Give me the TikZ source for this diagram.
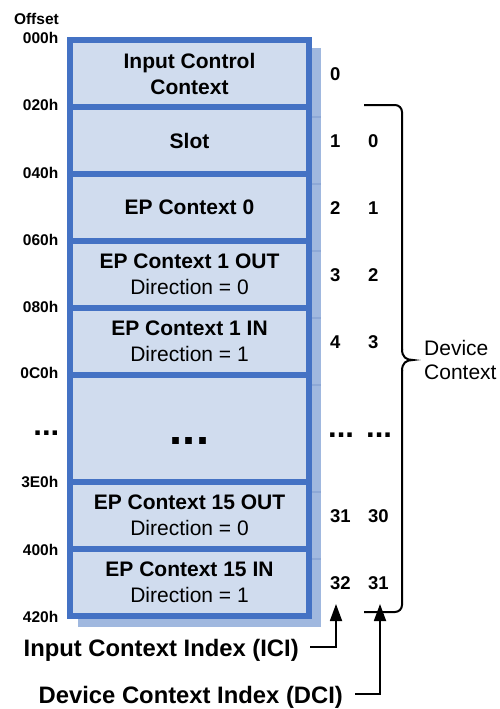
\documentclass[tikz,border=0pt]{standalone}
\usepackage{fontspec}
\setmainfont{Liberation Sans}
\usetikzlibrary{arrows.meta}
\definecolor{boxblue}{HTML}{4472C4}
\definecolor{boxfill}{HTML}{D0DCEE}
\definecolor{shadowblue}{HTML}{A0B8DF}
\definecolor{shadowline}{HTML}{8DA8D6}
\begin{document}
\begin{tikzpicture}[x=1pt,y=-1pt,
  rowbox/.style={draw=boxblue, line width=5.5pt, fill=boxfill, minimum width=239pt,
    minimum height=67pt, inner sep=0pt, align=center, font=\fontsize{21}{26}\selectfont},
  offlabel/.style={anchor=east, inner sep=0pt, font=\bfseries\fontsize{15.5}{18}\selectfont},
  idx/.style={anchor=west, inner sep=0pt, font=\bfseries\fontsize{18.5}{22}\selectfont},
  dotsmall/.style={inner sep=0pt, font=\bfseries\fontsize{31}{36}\selectfont},
  bottomlabel/.style={anchor=base west, inner sep=0pt, font=\bfseries\fontsize{23.8}{28}\selectfont},
  pointer/.style={line width=1.8pt, -{Triangle[length=17pt,width=12pt]}},
  bracestroke/.style={line width=2pt},
]
\useasboundingbox (0,0) rectangle (500,709);
% shadow
\fill[shadowblue] (78,48) rectangle (321,627);
\foreach \yy in {117,184,251,318,385,492,559}
  \draw[shadowline, line width=2pt] (78,\yy) -- (321,\yy);
% rows
\node[rowbox] (r0) at (189.5,73.5) {\textbf{Input Control}\\\textbf{Context}};
\node[rowbox] (r1) at (189.5,140.5) {\textbf{Slot}};
\node[rowbox] (r2) at (189.5,207.5) {\textbf{EP Context 0}};
\node[rowbox] (r3) at (189.5,274.5) {\textbf{EP Context 1 OUT}\\Direction = 0};
\node[rowbox] (r4) at (189.5,341.5) {\textbf{EP Context 1 IN}\\Direction = 1};
\node[rowbox, minimum height=107pt] (r5) at (189.5,428.5) {};
\node[rowbox] (r6) at (189.5,515.5) {\textbf{EP Context 15 OUT}\\Direction = 0};
\node[rowbox] (r7) at (189.5,582.5) {\textbf{EP Context 15 IN}\\Direction = 1};
\node[anchor=base, inner sep=0pt, font=\bfseries\fontsize{47}{50}\selectfont] (bigdots) at (189.5,444) {...};
% offsets
\node[offlabel] (offset) at (59,19) {Offset};
\node[offlabel] (o000) at (58.5,38) {000h};
\node[offlabel] (o020) at (58.5,105) {020h};
\node[offlabel] (o040) at (58.5,173) {040h};
\node[offlabel] (o060) at (58.5,240) {060h};
\node[offlabel] (o080) at (58.5,307) {080h};
\node[offlabel] (o0C0) at (58.5,373) {0C0h};
\node[dotsmall, anchor=base east] (odots) at (59.5,435) {...};
\node[offlabel] (o3E0) at (58.5,482) {3E0h};
\node[offlabel] (o400) at (58.5,550) {400h};
\node[offlabel] (o420) at (58.5,617) {420h};
% indices
\node[idx] (i0) at (330,74) {0};
\node[idx] (i1) at (330,141.5) {1};
\node[idx] (d0) at (368,141.5) {0};
\node[idx] (i2) at (330,208.5) {2};
\node[idx] (d1) at (368,208.5) {1};
\node[idx] (i3) at (330,275.5) {3};
\node[idx] (d2) at (368,275.5) {2};
\node[idx] (i4) at (330,342.5) {4};
\node[idx] (d3) at (368,342.5) {3};
\node[dotsmall, anchor=base west] (idots) at (328,437) {...};
\node[dotsmall, anchor=base west] (ddots) at (366,437) {...};
\node[idx] (i31) at (330,516) {31};
\node[idx] (d30) at (368,516) {30};
\node[idx] (i32) at (330,583) {32};
\node[idx] (d31) at (368,583) {31};
% brace
\draw[bracestroke, rounded corners=7pt] (364,105) -- (402,105) -- (402,350);
\draw[bracestroke] (402,349) .. controls (402,357) and (406,360) .. (413,360)
  .. controls (406,360) and (402,363) .. (402,371);
\draw[bracestroke, rounded corners=7pt] (402,370) -- (402,612) -- (364,612);
\coordinate (braceTip) at (413,360);
\node[anchor=west, inner sep=0pt, align=left, font=\fontsize{21}{24}\selectfont] (devctx)
  at ([xshift=11pt]braceTip) {Device\\Context};
% bottom labels and pointers
\node[bottomlabel] (ici) at (23.5,656) {Input Context Index (ICI)};
\node[bottomlabel] (dci) at (38.5,703) {Device Context Index (DCI)};
\coordinate (iciFrom) at (310,647);
\coordinate (iciTo) at (336,604);
\coordinate (dciFrom) at (355,694);
\coordinate (dciTo) at (380,604);
\draw[pointer] (iciFrom) -| (iciTo);
\draw[pointer] (dciFrom) -| (dciTo);
\end{tikzpicture}
\end{document}
